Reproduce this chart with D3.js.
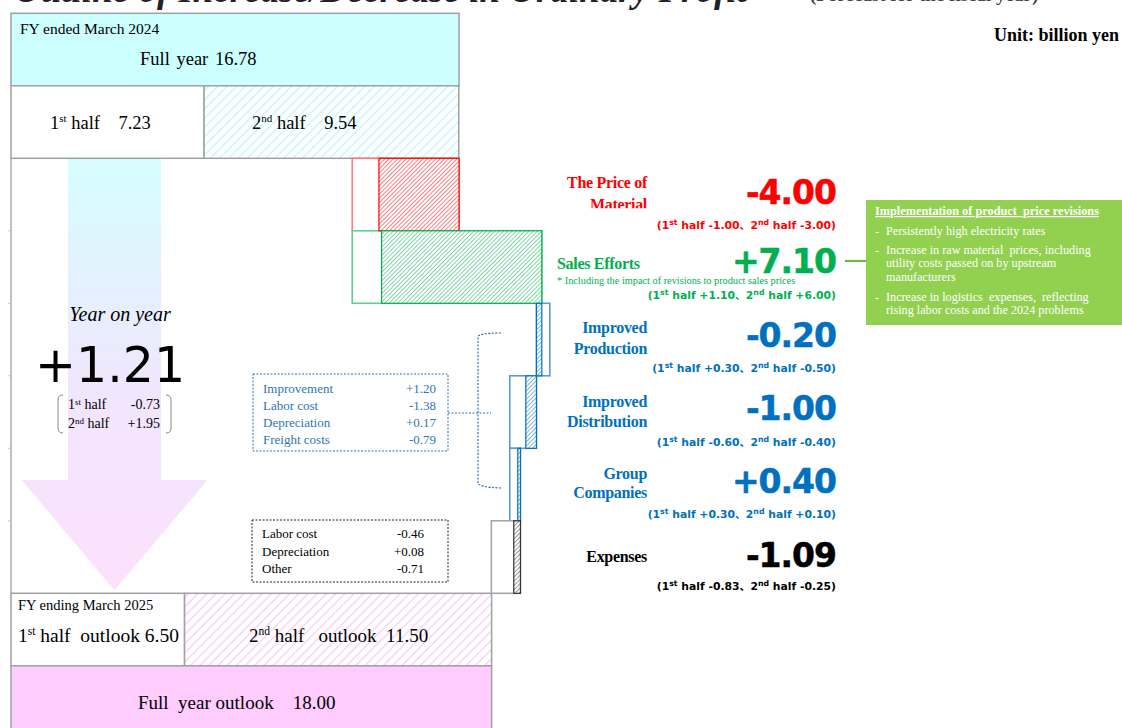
<!DOCTYPE html>
<html><head><meta charset="utf-8">
<script src="https://cdn.jsdelivr.net/npm/d3@7"></script>
<style>
html,body{margin:0;padding:0;background:#fff;overflow:hidden}
svg{display:block}
</style></head>
<body>
<svg id="c" width="1122" height="728"></svg>
<script>
// ---------------- DATA ----------------
const titleText = "Outline of Increase/Decrease in Ordinary Profit";
const titleNote = "(Forecast for the fiscal year)";
const unitText = "Unit: billion yen";

const fy24Label = "FY ended March 2024";
const fy24Full = 16.78;
const fy24Halves = [7.23, 9.54];

const fy25Label = "FY ending March 2025";
const fy25Full = 18.00;
const fy25Halves = [6.50, 11.50];

const factorNames = [["The Price of", "Material"], ["Sales Efforts"], ["Improved", "Production"], ["Improved", "Distribution"], ["Group", "Companies"], ["Expenses"]];
const factorTotals = [-4.00, 7.10, -0.20, -1.00, 0.40, -1.09];
const factorFirstHalf = [-1.00, 1.10, 0.30, -0.60, 0.30, -0.83];
const factorSecondHalf = [-3.00, 6.00, -0.50, -0.40, 0.10, -0.25];
const salesNote = "* Including the impact of revisions to product sales prices";

const yoyTotal = 1.21;
const yoyHalves = [-0.73, 1.95];

const productionItems = ["Improvement", "Labor cost", "Depreciation", "Freight costs"];
const productionValues = [1.20, -1.38, 0.17, -0.79];

const expenseItems = ["Labor cost", "Depreciation", "Other"];
const expenseValues = [-0.46, 0.08, -0.71];

const calloutTitle = "Implementation of product  price revisions";
const calloutLines = [
  ["-", "Persistently high electricity rates"],
  ["-", "Increase in raw material  prices, including"],
  ["", "utility costs passed on by upstream"],
  ["", "manufacturers"],
  ["-", "Increase in logistics  expenses,  reflecting"],
  ["", "rising labor costs and the 2024 problems"]
];

// ---------------- STYLE / LAYOUT ----------------
const SERIF = "'Liberation Serif','DejaVu Serif',serif";
const SANS = "'DejaVu Sans','Noto Sans CJK JP',sans-serif";
const GRAY = "#a0a0a0";
const factorColors = ["#ff0000", "#00b050", "#0070c0", "#0070c0", "#0070c0", "#000000"];
const barOuter = ["#ff7c7c", "#5fcf8e", "#5b9bd5", "#5b9bd5", "#5b9bd5", "#a6a6a6"];
const barHatch = ["#ff0000", "#00b050", "#0070c0", "#0070c0", "#0070c0", "#333333"];

const fmt = d3.formatLocale({decimal: ".", thousands: ",", grouping: [3], currency: ["", ""], minus: "-"});
const fs = fmt.format("+.2f");
const f2 = fmt.format(".2f");

const svg = d3.select("#c");
const defs = svg.append("defs");

const rowKeys = ["fy24full", "fy24half", "f0", "f1", "f2", "f3", "f4", "f5", "fy25half", "fy25full"];
const y = d3.scaleBand().domain(rowKeys).range([13.3, 13.3 + 72.5 * rowKeys.length]);
const x = d3.scaleLinear().domain([0, 18]).range([11, 11 + 18 * 26.7]);
const bw = y.bandwidth();

function hatch(id, color, gap, sw) {
  const p = defs.append("pattern").attr("id", id).attr("patternUnits", "userSpaceOnUse")
    .attr("width", gap).attr("height", gap).attr("patternTransform", "rotate(45)");
  p.append("rect").attr("width", gap).attr("height", gap).attr("fill", "#fff");
  p.append("line").attr("x1", 0).attr("y1", -1).attr("x2", 0).attr("y2", gap + 1)
    .attr("stroke", color).attr("stroke-width", sw);
}
hatch("hCyan", "#bff6fa", 6.5, 2.6);
hatch("hPink", "#f7cdf7", 6.5, 2.6);
factorColors.forEach((c, i) => hatch("hF" + i, barHatch[i], 3.0, 1.0));

// rich text helper: parts = [[text, isSup], ...]
function rich(g, parts, supSize, supDy) {
  parts.forEach(([t, sup]) => {
    const ts = g.append("tspan").text(t);
    if (sup) ts.attr("font-size", supSize).attr("dy", -supDy);
    else if (g.attr("data-up") === "1") ts.attr("dy", supDy);
    g.attr("data-up", sup ? "1" : "0");
  });
  return g;
}

// ---------------- TITLE ----------------
svg.append("text").attr("x", 14).attr("y", 2).attr("font-family", SERIF).attr("font-weight", "bold")
  .attr("font-style", "italic").attr("font-size", 37).attr("fill", "#222").text(titleText);
svg.append("text").attr("x", 810).attr("y", 1).attr("font-family", SERIF).attr("font-weight", "bold")
  .attr("font-size", 19).attr("fill", "#444").text(titleNote);
svg.append("text").attr("x", 1119).attr("y", 41).attr("text-anchor", "end").attr("font-family", SERIF)
  .attr("font-weight", "bold").attr("font-size", 18).text(unitText);

// ---------------- ARROW ----------------
const grad = defs.append("linearGradient").attr("id", "arrowGrad").attr("gradientUnits", "userSpaceOnUse")
  .attr("x1", 0).attr("x2", 0).attr("y1", y("f0")).attr("y2", y("fy25half"));
grad.append("stop").attr("offset", 0).attr("stop-color", "#d6fdff");
grad.append("stop").attr("offset", 0.55).attr("stop-color", "#f1e6fd");
grad.append("stop").attr("offset", 1).attr("stop-color", "#fde0fc");
const aTop = y("f0"), aTip = y("fy25half") - 3, aHead = 480, cx = 114.5;
svg.append("path").attr("fill", "url(#arrowGrad)")
  .attr("d", `M${cx - 46.5},${aTop} L${cx + 46.5},${aTop} L${cx + 46.5},${aHead} L${cx + 93},${aHead} L${cx},${aTip} L${cx - 93},${aHead} L${cx - 46.5},${aHead} Z`);

// left frame line with ticks
svg.append("line").attr("x1", 11).attr("x2", 11).attr("y1", y("f0")).attr("y2", y("fy25half"))
  .attr("stroke", GRAY).attr("stroke-width", 1.3);
rowKeys.slice(3, 8).forEach(k => svg.append("line").attr("x1", 8).attr("x2", 11)
  .attr("y1", y(k)).attr("y2", y(k)).attr("stroke", "#c8c8c8"));

// ---------------- TOP BOXES ----------------
svg.append("rect").attr("x", x(0)).attr("y", y("fy24full")).attr("width", x(fy24Full) - x(0)).attr("height", bw)
  .attr("fill", "#ccffff").attr("stroke", GRAY).attr("stroke-width", 1.5);
svg.append("text").attr("x", 20).attr("y", y("fy24full") + 21).attr("font-family", SERIF).attr("font-size", 15.5)
  .text(fy24Label);
svg.append("text").attr("x", 140).attr("y", y("fy24full") + 52).attr("font-family", SERIF).attr("font-size", 18.5)
  .attr("word-spacing", 2).text("Full year " + f2(fy24Full));

const h24 = [[0, fy24Halves[0]], [fy24Halves[0], fy24Halves[0] + fy24Halves[1]]];
svg.selectAll(".h24").data(h24).join("rect").attr("x", d => x(d[0])).attr("y", y("fy24half"))
  .attr("width", d => x(d[1]) - x(d[0])).attr("height", bw)
  .attr("fill", (d, i) => i ? "url(#hCyan)" : "#fff").attr("stroke", GRAY).attr("stroke-width", 1.5);
[["1", "st", " half    " + f2(fy24Halves[0]), 50], ["2", "nd", " half    " + f2(fy24Halves[1]), 252]].forEach(([a, s, b, tx]) => {
  const t = svg.append("text").attr("x", tx).attr("y", y("fy24half") + 43).attr("font-family", SERIF)
    .attr("font-size", 18.5).attr("xml:space", "preserve");
  rich(t, [[a, false], [s, true], [b, false]], 11, 7);
});

// ---------------- BOTTOM BOXES ----------------
const h25 = [[0, fy25Halves[0]], [fy25Halves[0], fy25Halves[0] + fy25Halves[1]]];
svg.selectAll(".h25").data(h25).join("rect").attr("x", d => x(d[0])).attr("y", y("fy25half"))
  .attr("width", d => x(d[1]) - x(d[0])).attr("height", bw)
  .attr("fill", (d, i) => i ? "url(#hPink)" : "#fff").attr("stroke", GRAY).attr("stroke-width", 1.5);
svg.append("rect").attr("x", x(0)).attr("y", y("fy25full")).attr("width", x(fy25Full) - x(0)).attr("height", bw)
  .attr("fill", "#ffccff").attr("stroke", GRAY).attr("stroke-width", 1.5);
svg.append("text").attr("x", 18).attr("y", y("fy25half") + 17).attr("font-family", SERIF).attr("font-size", 14.5)
  .text(fy25Label);
{
  const t = svg.append("text").attr("x", 18).attr("y", y("fy25half") + 49).attr("font-family", SERIF)
    .attr("font-size", 19.5).attr("xml:space", "preserve");
  rich(t, [["1", false], ["st", true], [" half  outlook " + f2(fy25Halves[0]), false]], 11.5, 7);
  const t2 = svg.append("text").attr("x", 249).attr("y", y("fy25half") + 49).attr("font-family", SERIF)
    .attr("font-size", 19).attr("xml:space", "preserve");
  rich(t2, [["2", false], ["nd", true], [" half   outlook  " + f2(fy25Halves[1]), false]], 11.5, 7);
}
svg.append("text").attr("x", 138).attr("y", y("fy25full") + 43).attr("font-family", SERIF).attr("font-size", 19)
  .attr("xml:space", "preserve").text("Full  year outlook    " + f2(fy25Full));

// ---------------- WATERFALL ----------------
let cum = fy24Full;
const bars = factorTotals.map((tot, i) => {
  const s = cum, h1 = factorFirstHalf[i], h2 = factorSecondHalf[i], e = s + tot;
  cum = e;
  const lo = Math.min(s, s + h1, e), hi = Math.max(s, s + h1, e);
  let hl, hh;
  if (Math.sign(h1) === Math.sign(h2)) { hl = hi - Math.abs(h2); hh = hi; }
  else { hl = Math.min(s, e); hh = Math.max(s, e); }
  return {i, lo, hi, hl, hh, row: "f" + i};
});
const gb = svg.append("g");
gb.selectAll(".outer").data(bars).join("rect")
  .attr("x", d => x(d.lo)).attr("y", d => y(d.row)).attr("width", d => x(d.hi) - x(d.lo)).attr("height", bw)
  .attr("fill", "#fff").attr("stroke", d => barOuter[d.i]).attr("stroke-width", 1.6);
gb.selectAll(".hat").data(bars).join("rect")
  .attr("x", d => x(d.hl)).attr("y", d => y(d.row)).attr("width", d => x(d.hh) - x(d.hl)).attr("height", bw)
  .attr("fill", d => `url(#hF${d.i})`).attr("stroke", d => barHatch[d.i]).attr("stroke-width", 1.2);

// ---------------- RIGHT LABELS ----------------
const labelLayout = [
  {lines: [30, 52], big: 46, sub: 71, clip: 50},
  {lines: [38], big: 42, sub: 68, note: 53, left: 557},
  {lines: [30, 51], big: 44, sub: 69},
  {lines: [31, 51], big: 44, sub: 70},
  {lines: [31, 50], big: 45, sub: 70},
  {lines: [41], big: 46, sub: 69}
];
factorTotals.forEach((tot, i) => {
  const top = y("f" + i), L = labelLayout[i], col = factorColors[i];
  const g = svg.append("g");
  if (L.clip) {
    defs.append("clipPath").attr("id", "clipL" + i).append("rect")
      .attr("x", 500).attr("y", top).attr("width", 200).attr("height", L.clip);
    g.attr("clip-path", `url(#clipL${i})`);
  }
  factorNames[i].forEach((nm, j) => {
    g.append("text").attr("x", L.left || 647).attr("y", top + L.lines[j])
      .attr("text-anchor", L.left ? "start" : "end").attr("font-family", SERIF).attr("font-weight", "bold")
      .attr("font-size", 16).attr("letter-spacing", -0.3).attr("fill", col).text(nm);
  });
  svg.append("text").attr("x", 836).attr("y", top + L.big).attr("text-anchor", "end")
    .attr("font-family", SANS).attr("font-weight", "bold").attr("font-size", 33).attr("letter-spacing", -1)
    .attr("fill", col).attr("stroke", col).attr("stroke-width", 0.5).text(fs(tot));
  if (L.note) {
    svg.append("text").attr("x", 557).attr("y", top + L.note).attr("font-family", SERIF)
      .attr("font-size", 10.3).attr("fill", col).text(salesNote);
  }
  const t = svg.append("text").attr("x", 836).attr("y", top + L.sub).attr("text-anchor", "end")
    .attr("font-family", SANS).attr("font-weight", "bold").attr("font-size", 10.8).attr("fill", col)
    .attr("xml:space", "preserve");
  rich(t, [["(1", false], ["st", true], [" half " + fs(factorFirstHalf[i]) + "、2", false], ["nd", true],
           [" half " + fs(factorSecondHalf[i]) + ")", false]], 7.8, 4);
});

// ---------------- CALLOUT ----------------
const cy0 = 200;
svg.append("line").attr("x1", 845).attr("x2", 867).attr("y1", 261).attr("y2", 261)
  .attr("stroke", "#70b840").attr("stroke-width", 2.2);
svg.append("rect").attr("x", 866).attr("y", cy0).attr("width", 260).attr("height", 125).attr("fill", "#92d050");
svg.append("text").attr("x", 875).attr("y", cy0 + 15).attr("font-family", SERIF).attr("font-weight", "bold")
  .attr("font-size", 12.3).attr("fill", "#fff").attr("text-decoration", "underline").attr("xml:space", "preserve")
  .text(calloutTitle);
const calloutY = [35, 54, 67, 81, 101, 114];
calloutLines.forEach(([d, txt], k) => {
  if (d) svg.append("text").attr("x", 875).attr("y", cy0 + calloutY[k]).attr("font-family", SERIF)
    .attr("font-size", 12.2).attr("fill", "#fff").text(d);
  svg.append("text").attr("x", 886).attr("y", cy0 + calloutY[k]).attr("font-family", SERIF)
    .attr("font-size", 12.2).attr("fill", "#fff").attr("xml:space", "preserve").text(txt);
});

// ---------------- YEAR ON YEAR ----------------
svg.append("text").attr("x", 120).attr("y", 321).attr("text-anchor", "middle").attr("font-family", SERIF)
  .attr("font-style", "italic").attr("font-size", 20).text("Year on year");
svg.append("text").attr("x", 110).attr("y", 382).attr("text-anchor", "middle").attr("font-family", SANS)
  .attr("font-size", 49).text(fs(yoyTotal));
[["1", "st"], ["2", "nd"]].forEach(([a, s], k) => {
  const ty = 409 + k * 19;
  const t = svg.append("text").attr("x", 68).attr("y", ty).attr("font-family", SERIF).attr("font-size", 14);
  rich(t, [[a, false], [s, true], [" half", false]], 9, 4);
  svg.append("text").attr("x", 160).attr("y", ty).attr("text-anchor", "end").attr("font-family", SERIF)
    .attr("font-size", 14).text(fs(yoyHalves[k]));
});
svg.append("path").attr("d", "M63,395 Q58,395 58,400 L58,428 Q58,433 63,433").attr("fill", "none")
  .attr("stroke", "#888").attr("stroke-width", 1);
svg.append("path").attr("d", "M166,395 Q171,395 171,400 L171,428 Q171,433 166,433").attr("fill", "none")
  .attr("stroke", "#888").attr("stroke-width", 1);

// ---------------- PRODUCTION BREAKDOWN ----------------
const BLUE2 = "#2e75b6";
svg.append("rect").attr("x", 253).attr("y", 374).attr("width", 195).attr("height", 77)
  .attr("fill", "#fff").attr("stroke", BLUE2).attr("stroke-width", 1).attr("stroke-dasharray", "2,1.5");
productionItems.forEach((nm, k) => {
  const ty = 393 + k * 17;
  svg.append("text").attr("x", 263).attr("y", ty).attr("font-family", SERIF).attr("font-size", 13)
    .attr("fill", BLUE2).text(nm);
  svg.append("text").attr("x", 436).attr("y", ty).attr("text-anchor", "end").attr("font-family", SERIF)
    .attr("font-size", 13).attr("fill", BLUE2).text(fs(productionValues[k]));
});
svg.append("line").attr("x1", 448).attr("x2", 491).attr("y1", 413).attr("y2", 413)
  .attr("stroke", BLUE2).attr("stroke-dasharray", "2,1.5").attr("stroke-width", 1);
svg.append("path").attr("d", "M501,333 Q478,333 478,337 L478,483 Q478,487 501,488")
  .attr("fill", "none").attr("stroke", BLUE2).attr("stroke-dasharray", "2,1.5").attr("stroke-width", 1.2);

// ---------------- EXPENSE BREAKDOWN ----------------
svg.append("rect").attr("x", 252).attr("y", 520).attr("width", 196).attr("height", 62)
  .attr("fill", "#fff").attr("stroke", "#222").attr("stroke-width", 1).attr("stroke-dasharray", "2,1.5");
expenseItems.forEach((nm, k) => {
  const ty = 538 + k * 17.5;
  svg.append("text").attr("x", 262).attr("y", ty).attr("font-family", SERIF).attr("font-size", 13).text(nm);
  svg.append("text").attr("x", 424).attr("y", ty).attr("text-anchor", "end").attr("font-family", SERIF)
    .attr("font-size", 13).text(fs(expenseValues[k]));
});
</script>
</body></html>
